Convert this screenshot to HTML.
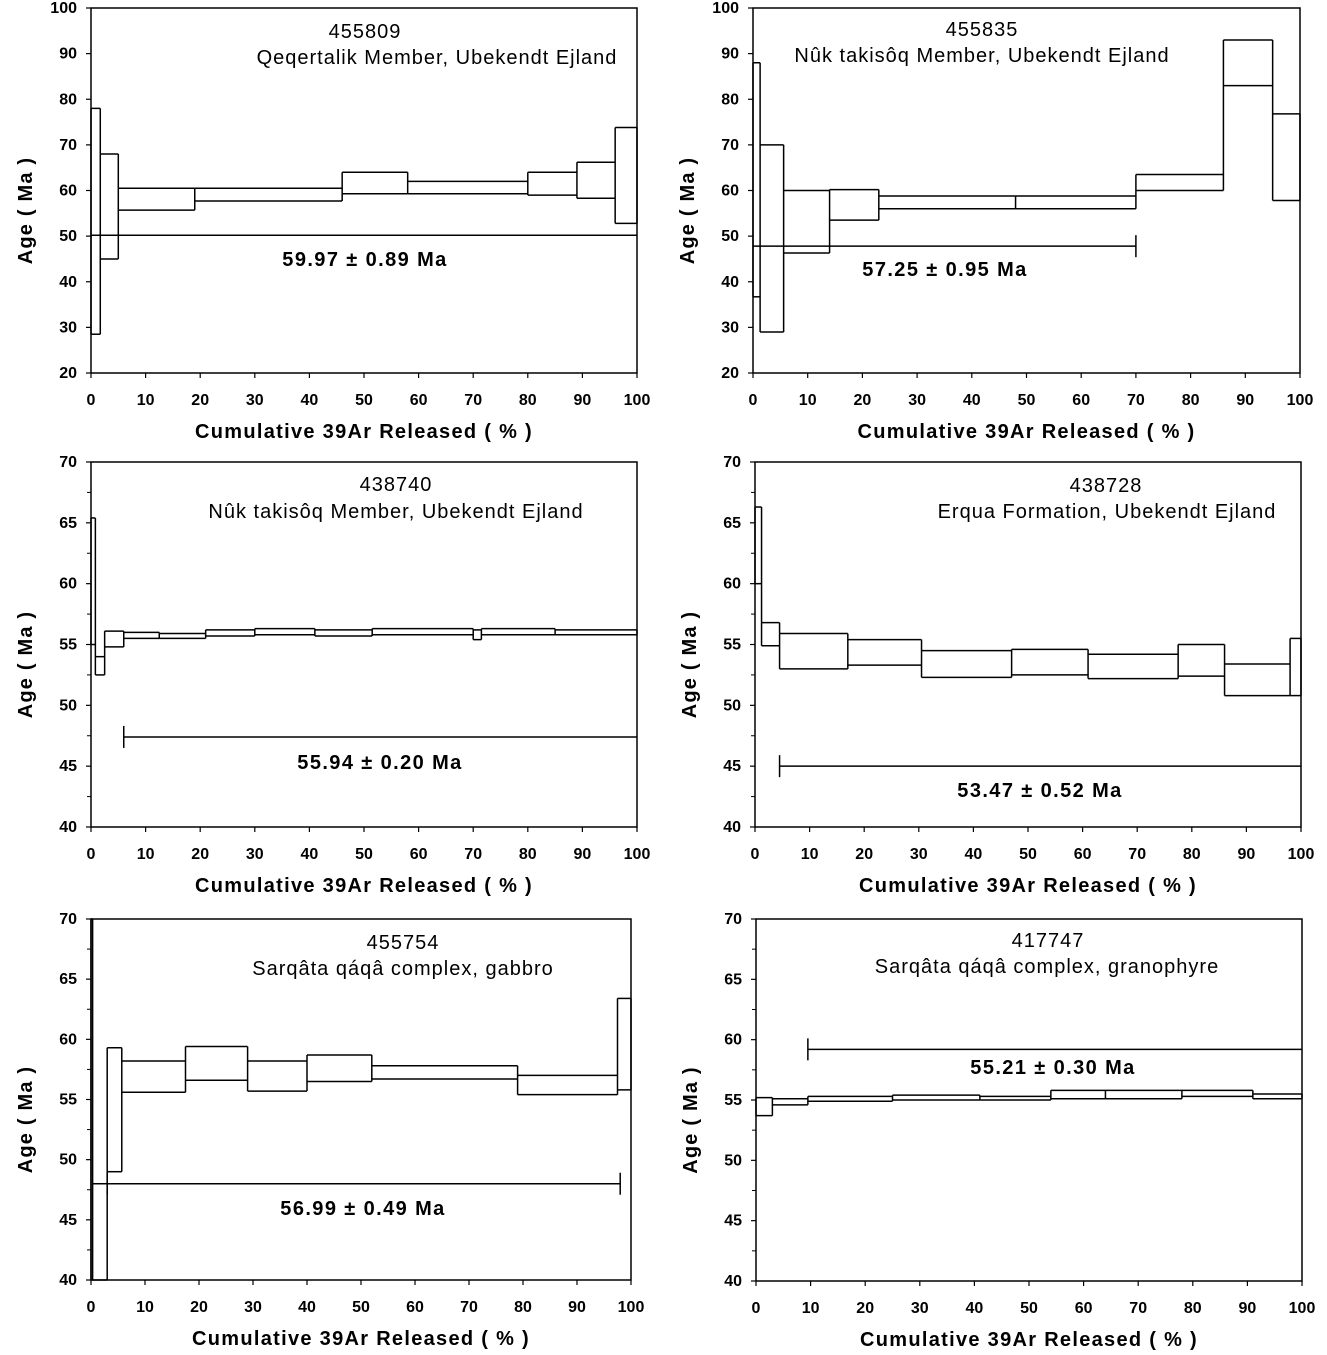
<!DOCTYPE html>
<html><head><meta charset="utf-8">
<style>
html,body{margin:0;padding:0;background:#fff;}
svg{display:block;font-family:"Liberation Sans",Arial,sans-serif;}
</style></head>
<body>
<svg id="c" width="1327" height="1355" viewBox="0 0 1327 1355" xmlns="http://www.w3.org/2000/svg"></svg>
<script>
const p1Cum=[0,1.7,5,19,46,58,80,89,96,100];
const p1Lo=[28.5,45,55.7,57.7,59.3,59.3,59,58.3,52.8];
const p1Hi=[78,68,60.5,60.5,64,62,64,66.2,73.8];
const p2Cum=[0,1.3,5.6,14,23,48,70,86,95,100];
const p2Lo=[36.7,29,46.3,53.5,56,56,60,83,57.8];
const p2Hi=[88,70,60,60.2,58.8,58.8,63.5,93,76.8];
const p3Cum=[0,0.8,2.5,6,12.5,21,30,41,51.5,70,71.5,85,100];
const p3Lo=[55,52.5,54.8,55.5,55.5,55.7,55.8,55.7,55.8,55.4,55.8,55.8];
const p3Hi=[65.4,54,56.1,56,55.9,56.2,56.3,56.2,56.3,56.2,56.3,56.2];
const p4Cum=[0,1.2,4.5,17,30.5,47,61,77.5,86,98,100];
const p4Lo=[60,54.9,53,53.3,52.3,52.5,52.2,52.4,50.8,50.8];
const p4Hi=[66.3,56.8,55.9,55.4,54.5,54.6,54.2,55,53.4,55.5];
const p5Cum=[0,0.3,3,5.7,17.5,29,40,52,79,97.5,100];
const p5Lo=[40,40,49,55.6,56.6,55.7,56.5,56.7,55.4,55.8];
const p5Hi=[70,48,59.3,58.2,59.4,58.2,58.7,57.8,57,63.4];
const p6Cum=[0,3,9.5,25,41,54,64,78,91,100];
const p6Lo=[53.7,54.6,54.9,55,55,55.1,55.1,55.3,55.1];
const p6Hi=[55.2,55.1,55.3,55.4,55.3,55.8,55.8,55.8,55.5];
const plateauAge=[50.2,47.8,47.4,45,48,59.2];
const plateauFrom=[0,0,6,4.5,3,9.5];
const plateauTo=[100,70,100,100,98,100];
const plateauLabels=["59.97 ± 0.89 Ma","57.25 ± 0.95 Ma","55.94 ± 0.20 Ma","53.47 ± 0.52 Ma","56.99 ± 0.49 Ma","55.21 ± 0.30 Ma"];
const sampleIds=["455809","455835","438740","438728","455754","417747"];
const sampleDesc=["Qeqertalik Member, Ubekendt Ejland","Nûk takisôq Member, Ubekendt Ejland","Nûk takisôq Member, Ubekendt Ejland","Erqua Formation, Ubekendt Ejland","Sarqâta qáqâ complex, gabbro","Sarqâta qáqâ complex, granophyre"];
const xTicks=[0,10,20,30,40,50,60,70,80,90,100];

const svg=document.getElementById('c');
const NS="http://www.w3.org/2000/svg";
function mk(tag,attrs,parent){const e=document.createElementNS(NS,tag);for(const k in attrs)e.setAttribute(k,attrs[k]);(parent||svg).appendChild(e);return e;}

const panels=[
 {cum:p1Cum,lo:p1Lo,hi:p1Hi,x0:91,x1:637,y0:8,y1:373,ymin:20,ymax:100,ystep:10,minor:0,titleX:365,titleY:38,descX:437,descY:64,labX:365,labY:266},
 {cum:p2Cum,lo:p2Lo,hi:p2Hi,x0:753,x1:1300,y0:8,y1:373,ymin:20,ymax:100,ystep:10,minor:0,titleX:982,titleY:36,descX:982,descY:62,labX:945,labY:276},
 {cum:p3Cum,lo:p3Lo,hi:p3Hi,x0:91,x1:637,y0:462,y1:827,ymin:40,ymax:70,ystep:5,minor:2.5,titleX:396,titleY:491,descX:396,descY:518,labX:380,labY:769},
 {cum:p4Cum,lo:p4Lo,hi:p4Hi,x0:755,x1:1301,y0:462,y1:827,ymin:40,ymax:70,ystep:5,minor:2.5,titleX:1106,titleY:492,descX:1107,descY:518,labX:1040,labY:797},
 {cum:p5Cum,lo:p5Lo,hi:p5Hi,x0:91,x1:631,y0:919,y1:1280,ymin:40,ymax:70,ystep:5,minor:2.5,titleX:403,titleY:949,descX:403,descY:975,labX:363,labY:1215},
 {cum:p6Cum,lo:p6Lo,hi:p6Hi,x0:756,x1:1302,y0:919,y1:1281,ymin:40,ymax:70,ystep:5,minor:2.5,titleX:1048,titleY:947,descX:1047,descY:973,labX:1053,labY:1074}
];

panels.forEach((p,i)=>{
 const g=mk('g',{});
 
 
 const X=v=>p.x0+(v/100)*(p.x1-p.x0);
 const clamp=v=>Math.max(p.ymin,Math.min(p.ymax,v));
 const Y=v=>p.y1-(clamp(v)-p.ymin)/(p.ymax-p.ymin)*(p.y1-p.y0);
 const frame=mk('rect',{x:p.x0,y:p.y0,width:p.x1-p.x0,height:p.y1-p.y0,fill:'none',stroke:'#000','stroke-width':1.5},g);
 
 
 for(let v=p.ymin;v<=p.ymax+1e-6;v+=p.ystep){
  const y=Y(v);
  mk('line',{x1:p.x0-5,x2:p.x0,y1:y,y2:y,stroke:'#000','stroke-width':1.2},g);
  const t=mk('text',{x:p.x0-14,y:y+5,'text-anchor':'end','font-size':16,'font-weight':'bold'},g);
  t.textContent=v;
  
  
 }
 if(p.minor){for(let v=p.ymin+p.minor;v<p.ymax;v+=p.ystep){const y=Y(v);mk('line',{x1:p.x0-4,x2:p.x0,y1:y,y2:y,stroke:'#000','stroke-width':1},g);}}
 xTicks.forEach(v=>{
  const x=X(v);
  mk('line',{x1:x,x2:x,y1:p.y1,y2:p.y1+5,stroke:'#000','stroke-width':1.2},g);
  const t=mk('text',{x:x,y:p.y1+32,'text-anchor':'middle','font-size':16,'font-weight':'bold'},g);
  t.textContent=v;
  
  
 });
 const xt=mk('text',{x:(p.x0+p.x1)/2,y:p.y1+65,'text-anchor':'middle','font-size':20,'font-weight':'bold','letter-spacing':1.3},g);
 xt.textContent='Cumulative 39Ar Released ( % )';
 
 
 const ym=(p.y0+p.y1)/2+20;
 const yt=mk('text',{x:p.x0-59,y:ym,'text-anchor':'middle','font-size':20,'font-weight':'bold','letter-spacing':1.2,transform:`rotate(-90 ${p.x0-59} ${ym})`},g);
 yt.textContent='Age ( Ma )';
 
 
 const n=p.lo.length;
 for(let k=0;k<n;k++){
  const xa=X(p.cum[k]),xb=X(p.cum[k+1]);
  const top=mk('line',{x1:xa,x2:xb,y1:Y(p.hi[k]),y2:Y(p.hi[k]),stroke:'#000','stroke-width':1.5},g);
  
  
  const bot=mk('line',{x1:xa,x2:xb,y1:Y(p.lo[k]),y2:Y(p.lo[k]),stroke:'#000','stroke-width':1.5},g);
  
  
 }
 for(let b=0;b<=n;b++){
  const vals=[];
  if(b>0){vals.push(p.lo[b-1],p.hi[b-1]);}
  if(b<n){vals.push(p.lo[b],p.hi[b]);}
  const x=X(p.cum[b]);
  const v=mk('line',{x1:x,x2:x,y1:Y(Math.max(...vals)),y2:Y(Math.min(...vals)),stroke:'#000','stroke-width':1.5},g);
  
  
 }
 const py=Y(plateauAge[i]);
 const pl=mk('line',{x1:X(plateauFrom[i]),x2:X(plateauTo[i]),y1:py,y2:py,stroke:'#000','stroke-width':1.5},g);
 
 
 if(plateauFrom[i]>0)mk('line',{x1:X(plateauFrom[i]),x2:X(plateauFrom[i]),y1:py-11,y2:py+11,stroke:'#000','stroke-width':1.5},g);
 if(plateauTo[i]<100)mk('line',{x1:X(plateauTo[i]),x2:X(plateauTo[i]),y1:py-11,y2:py+11,stroke:'#000','stroke-width':1.5},g);
 const lb=mk('text',{x:p.labX,y:p.labY,'text-anchor':'middle','font-size':20,'font-weight':'bold','letter-spacing':1.4},g);
 lb.textContent=plateauLabels[i];
 
 
 const ti=mk('text',{x:p.titleX,y:p.titleY,'text-anchor':'middle','font-size':20,'letter-spacing':1},g);
 ti.textContent=sampleIds[i];
 
 
 const de=mk('text',{x:p.descX,y:p.descY,'text-anchor':'middle','font-size':20,'letter-spacing':1},g);
 de.textContent=sampleDesc[i];
 
 
});
</script>
</body></html>
